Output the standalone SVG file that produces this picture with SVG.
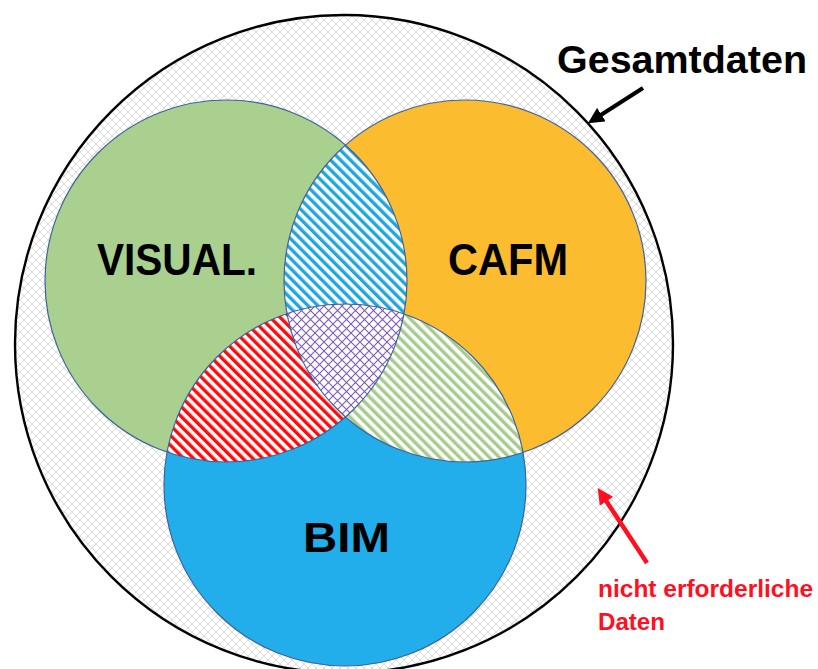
<svg xmlns="http://www.w3.org/2000/svg" width="818" height="669" viewBox="0 0 818 669">
  <style>
    .lbl { font-family: "Liberation Sans", Arial, sans-serif; font-weight: bold; fill: #000; }
    .red { fill: #FF0F1F; }
    .outline { fill: none; stroke: #3F629E; stroke-width: 1.2; }
  </style>
  <defs>
    <pattern id="grid" width="8" height="8" patternUnits="userSpaceOnUse">
      <rect width="8" height="8" fill="#fff"/>
      <path d="M0,0 L8,8 M8,0 L0,8" stroke="#D2D2D2" stroke-width="0.8" fill="none"/>
    </pattern>
    <pattern id="purple" width="9" height="9" patternUnits="userSpaceOnUse">
      <rect width="9" height="9" fill="#fff"/>
      <path d="M0,0 L9,9 M9,0 L0,9" stroke="#7D5AB5" stroke-width="1.1" fill="none"/>
    </pattern>
    <pattern id="hBlue" width="7" height="7" patternUnits="userSpaceOnUse" patternTransform="rotate(-45)">
      <rect width="7" height="7" fill="#fff"/>
      <rect width="3.4" height="7" fill="#1FA6E2"/>
    </pattern>
    <pattern id="hRed" width="7" height="7" patternUnits="userSpaceOnUse" patternTransform="rotate(-45)">
      <rect width="7" height="7" fill="#fff"/>
      <rect width="3.4" height="7" fill="#FF0A0A"/>
    </pattern>
    <pattern id="hGreen" width="7" height="7" patternUnits="userSpaceOnUse" patternTransform="rotate(-45)">
      <rect width="7" height="7" fill="#fff"/>
      <rect width="3.4" height="7" fill="#A6CB8A"/>
    </pattern>
    <clipPath id="cG"><circle cx="226" cy="281" r="181"/></clipPath>
    <clipPath id="cO"><circle cx="465" cy="281" r="181"/></clipPath>
    <marker id="ahBlack" markerUnits="userSpaceOnUse" markerWidth="18" markerHeight="16" refX="10" refY="8" orient="auto">
      <path d="M0,0 L16,8 L0,16 z" fill="#000"/>
    </marker>
    <marker id="ahRed" markerUnits="userSpaceOnUse" markerWidth="18" markerHeight="16" refX="10" refY="8" orient="auto">
      <path d="M0,0 L16,8 L0,16 z" fill="#FF0F1F"/>
    </marker>
  </defs>

  <g id="gesamtdaten-circle">
    <circle cx="344" cy="344" r="329" fill="url(#grid)" stroke="#000" stroke-width="2.4"/>
  </g>

  <g id="visual">
    <circle cx="226" cy="281" r="181" fill="#A9D08E"/>
  </g>
  <g id="cafm">
    <circle cx="465" cy="281" r="181" fill="#FBBC2F"/>
  </g>
  <g id="bim">
    <circle cx="345" cy="485" r="181" fill="#21AEEB"/>
  </g>

  <g id="intersections">
    <g clip-path="url(#cG)">
      <circle cx="465" cy="281" r="181" fill="url(#hBlue)"/>
      <circle cx="345" cy="485" r="181" fill="url(#hRed)"/>
    </g>
    <g clip-path="url(#cO)">
      <circle cx="345" cy="485" r="181" fill="url(#hGreen)"/>
      <g clip-path="url(#cG)">
        <circle cx="345" cy="485" r="181" fill="url(#purple)"/>
      </g>
    </g>
  </g>

  <g id="outlines">
    <circle class="outline" cx="226" cy="281" r="181"/>
    <circle class="outline" cx="465" cy="281" r="181"/>
    <circle class="outline" cx="345" cy="485" r="181"/>
  </g>

  <g id="labels">
    <text class="lbl" x="97" y="275" font-size="45" textLength="160" lengthAdjust="spacingAndGlyphs">VISUAL.</text>
    <text class="lbl" x="448" y="275" font-size="45" textLength="120" lengthAdjust="spacingAndGlyphs">CAFM</text>
    <text class="lbl" x="303" y="552" font-size="43" textLength="87" lengthAdjust="spacingAndGlyphs">BIM</text>
    <text class="lbl" x="557" y="73" font-size="39" textLength="250" lengthAdjust="spacingAndGlyphs">Gesamtdaten</text>
    <text class="lbl red" x="598" y="597" font-size="24" textLength="215" lengthAdjust="spacingAndGlyphs">nicht erforderliche</text>
    <text class="lbl red" x="598" y="630" font-size="24" textLength="67" lengthAdjust="spacingAndGlyphs">Daten</text>
  </g>

  <g id="connectors">
    <line x1="643" y1="88" x2="593" y2="120" stroke="#000" stroke-width="4" marker-end="url(#ahBlack)"/>
    <line x1="647" y1="563" x2="601" y2="493" stroke="#FF0F1F" stroke-width="4.5" marker-end="url(#ahRed)"/>
  </g>
</svg>
